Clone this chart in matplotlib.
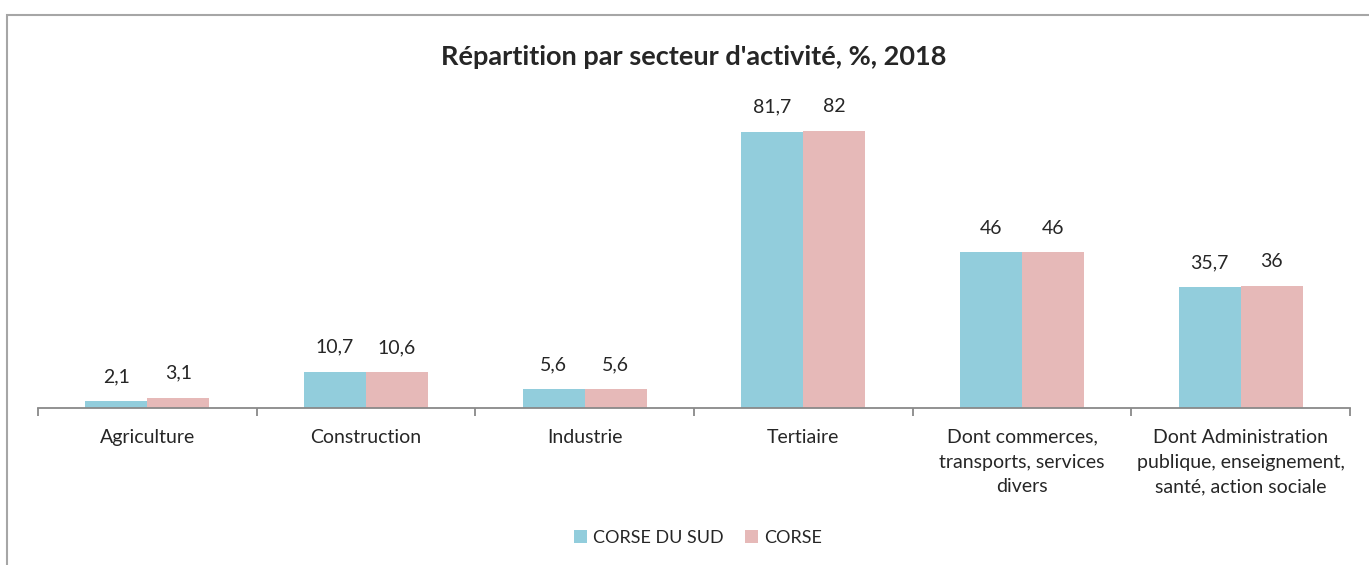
import numpy as np
import matplotlib
matplotlib.use("Agg")
from matplotlib import pyplot as plt
from matplotlib.patches import Rectangle

plt.rcParams['font.family'] = ['Lato', 'DejaVu Sans']

categories = ["Agriculture", "Construction", "Industrie", "Tertiaire",
              "Dont commerces,\ntransports, services\ndivers",
              "Dont Administration\npublique, enseignement,\nsanté, action sociale"]
corse_du_sud = [2.1, 10.7, 5.6, 81.7, 46, 35.7]
corse = [3.1, 10.6, 5.6, 82, 46, 36]
series_names = ["CORSE DU SUD", "CORSE"]
colors = ["#92CDDC", "#E6B9B8"]
text_col = "#262626"
axis_col = "#898989"


def fmt(v):
    s = f"{v:.1f}".rstrip('0').rstrip('.')
    return s.replace('.', ',')


fig = plt.figure(figsize=(13.69, 5.65), dpi=100)
W, H = 1369, 565
ax = fig.add_axes([38 / W, 1 - 408 / H, (1350 - 38) / W, (408 - 100) / H])

x = np.arange(len(categories))
bw = 0.284
b1 = ax.bar(x - bw / 2, corse_du_sud, bw, color=colors[0], label=series_names[0])
b2 = ax.bar(x + bw / 2, corse, bw, color=colors[1], label=series_names[1])

for bars, vals in ((b1, corse_du_sud), (b2, corse)):
    for b, v in zip(bars, vals):
        ax.annotate(fmt(v), (b.get_x() + b.get_width() / 2, v), xytext=(0, 11.5),
                    textcoords='offset points', ha='center', va='bottom',
                    fontsize=14, color=text_col)

ax.set_xlim(-0.5, len(categories) - 0.5)
ax.set_ylim(0, 91.1)
for s in ['top', 'right', 'left']:
    ax.spines[s].set_visible(False)
ax.spines['bottom'].set_color(axis_col)
ax.spines['bottom'].set_linewidth(1.3)
ax.set_yticks([])
ax.set_xticks(x)
ax.set_xticklabels(categories, fontsize=14, color=text_col, linespacing=1.55, va='top')
ax.tick_params(axis='x', which='major', length=0, pad=15)
ax.set_xticks(np.arange(-0.5, len(categories), 1), minor=True)
ax.tick_params(axis='x', which='minor', length=6, width=1.3, color=axis_col)

fig.text(694 / W, 1 - 57 / H, "Répartition par secteur d'activité, %, 2018",
         ha='center', va='center', fontsize=19.5, fontweight='bold', color=text_col)

fig.legend(loc='center', bbox_to_anchor=(698 / W, 1 - 538 / H), ncol=2, frameon=False,
           fontsize=13, handlelength=0.7, handleheight=0.7, handletextpad=0.35,
           columnspacing=1.2, labelcolor=text_col)

fig.patches.append(Rectangle((7 / W, -0.2), 1.2, 1.2 - 15 / H, transform=fig.transFigure,
                             fill=False, edgecolor="#a6a6a6", linewidth=1.5))

fig.savefig("out.png", dpi=100)
